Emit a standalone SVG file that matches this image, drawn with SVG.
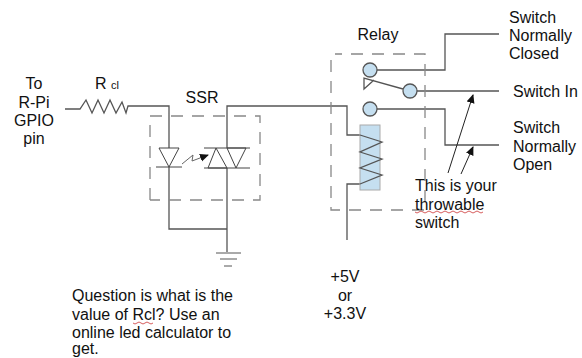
<svg xmlns="http://www.w3.org/2000/svg" width="582" height="358" viewBox="0 0 582 358">
<style>
text{font-family:"Liberation Sans",Arial,sans-serif;font-size:16px;fill:#111}
.m{text-anchor:middle}
.w{fill:none;stroke:#555;stroke-width:1.3}
.d{fill:none;stroke:#888;stroke-width:1.3;stroke-dasharray:12 9}
.c{fill:#c5dff0;stroke:#555;stroke-width:1.3}
.s{fill:none;stroke:#c33;stroke-width:.8}
</style>
<defs><marker id="a" markerWidth="10" markerHeight="10" refX="8" refY="4" orient="auto" markerUnits="userSpaceOnUse"><path d="M0 0L9 4L0 8z" fill="#111"/></marker></defs>
<rect width="582" height="358" fill="#fff"/>
<g id="connectors">
<path class="w" d="M65 109H80L86 100L92 113L98 100L104 113L110 100L116 113L122 102L126 113L128 106H169V148"/>
<path class="w" d="M169 167V229H227"/>
<path class="w" d="M227 168V252"/>
<path class="w" d="M227 148V106H347V135H360"/>
<path class="w" d="M360 184H347V240"/>
<path class="w" d="M377 70H445V34H499"/>
<path class="w" d="M417 91H499"/>
<path class="w" d="M377 109H445V145H499"/>
<path d="M448 173L473 95" stroke="#222" fill="none" marker-end="url(#a)"/>
<path d="M461 174L473 147" stroke="#222" fill="none" marker-end="url(#a)"/>
</g>
<g id="ssr">
<path class="d" d="M150 200V116H260V200H150"/>
<path d="M159 148H179L169 167Z M156 167H182" fill="none" stroke="#444"/>
<path d="M204 148H250M204 168H250M216 148L208 168H227ZM227 148H246L236 168Z" fill="none" stroke="#444"/>
<path d="M182 164L193 155L192 161L208 155" fill="none" stroke="#666" marker-end="url(#a)"/>
<text class="m" x="202" y="103">SSR</text>
</g>
<g id="ground">
<path d="M216 253H241M220 259H237M224 266H232" fill="none" stroke="#555"/>
</g>
<g id="relay">
<path class="d" d="M331 60V210H425V54H335"/>
<rect x="360" y="125" width="20" height="65" fill="#c5dff0" stroke="#aaa"/>
<path class="w" d="M360 135L382 142L360 152L382 159L360 168L382 175L360 184"/>
<circle class="c" cx="370" cy="70" r="7"/>
<circle class="c" cx="410" cy="91" r="7"/>
<circle class="c" cx="370" cy="109" r="7"/>
<path class="w" d="M403 89L364 78V89L374 80"/>
<text class="m" x="378" y="40">Relay</text>
</g>
<g id="labels">
<text class="m" x="34" y="89">To</text><text class="m" x="34" y="108">R-Pi</text><text class="m" x="34" y="126">GPIO</text><text class="m" x="34" y="144">pin</text>
<text x="95" y="89">R</text><text x="111" y="89" style="font-size:11px">cl</text>
<text x="509" y="23">Switch</text><text x="509" y="41">Normally</text><text x="509" y="59">Closed</text>
<text x="513" y="97">Switch In</text>
<text x="513" y="133">Switch</text><text x="513" y="152">Normally</text><text x="513" y="170">Open</text>
<text x="415" y="191">This is your</text><text x="415" y="210">throwable</text><text x="415" y="228">switch</text>
<path class="s" d="M415 212q2 2 4 0t4 0t4 0t4 0t4 0t4 0t4 0t4 0t4 0t4 0t4 0t4 0t4 0t4 0t4 0t4 0t4 0"/>
<text class="m" x="345" y="282">+5V</text><text class="m" x="345" y="301">or</text><text class="m" x="345" y="319">+3.3V</text>
<text x="72" y="301">Question is what is the</text><text x="72" y="320">value of Rcl? Use an</text><text x="72" y="338">online led calculator to</text><text x="72" y="354">get.</text>
<path class="s" d="M133 323q2 2 4 0t4 0t4 0t4 0t4 0"/>
</g>
</svg>
